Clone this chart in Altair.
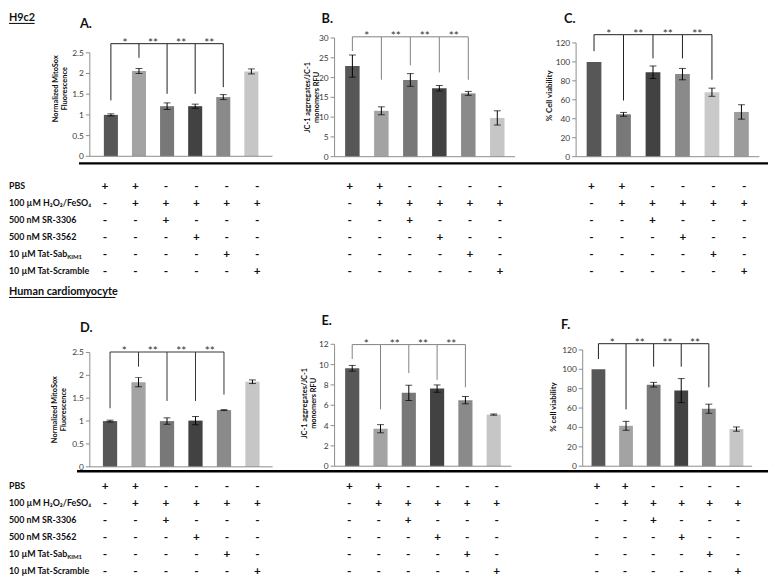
import altair as alt
import pandas as pd

# ---------------- data ----------------
CONDS = ["PBS", "H2O2/FeSO4", "SR-3306", "SR-3562", "Tat-SabKIM1", "Tat-Scramble"]

ROW_LABELS = ["PBS", "100 µM  H₂O₂/FeSO₄", "500 nM  SR-3306", "500 nM  SR-3562",
              "10 µM  Tat-Sab", "10 µM  Tat-Scramble"]
SIGNS = [
    ["+", "+", "-", "-", "-", "-"],
    ["-", "+", "+", "+", "+", "+"],
    ["-", "-", "+", "-", "-", "-"],
    ["-", "-", "-", "+", "-", "-"],
    ["-", "-", "-", "-", "+", "-"],
    ["-", "-", "-", "-", "-", "+"],
]
STARS = ["*", "**", "**", "**"]

# H9c2
A_MEAN = [1.00, 2.06, 1.21, 1.21, 1.43, 2.05]
A_SEM = [0.025, 0.06, 0.08, 0.05, 0.06, 0.06]
A_BR_TOP = 2.72
A_BR_END = [1.35, 2.38, 1.51, 1.51, 1.67]

B_MEAN = [22.9, 11.6, 19.4, 17.3, 16.0, 9.8]
B_SEM = [2.8, 1.0, 1.6, 0.7, 0.5, 1.8]
B_BR_TOP = 30.3
B_BR_END = [26.7, 19.45, 23.1, 21.3, 19.45]

C_MEAN = [100, 44.7, 89.1, 87.1, 68.0, 47.2]
C_SEM = [0, 2.0, 6.6, 6.0, 4.3, 7.6]
C_BR_TOP = 128.7
C_BR_END = [111.3, 59.3, 103.7, 103.7, 81.2]

# Human cardiomyocyte
D_MEAN = [1.00, 1.85, 1.00, 1.01, 1.24, 1.86]
D_SEM = [0.02, 0.10, 0.07, 0.09, 0.01, 0.04]
D_BR_TOP = 2.51
D_BR_END = [1.28, 2.19, 1.44, 1.44, 1.58]

E_MEAN = [9.64, 3.69, 7.22, 7.64, 6.50, 5.08]
E_SEM = [0.28, 0.40, 0.75, 0.36, 0.36, 0.06]
E_BR_TOP = 11.97
E_BR_END = [10.55, 5.6, 9.16, 8.5, 7.77]

F_MEAN = [100, 41.7, 84.1, 78.0, 59.3, 38.3]
F_SEM = [0, 4.6, 2.4, 12.4, 4.7, 2.2]
F_BR_TOP = 126.4
F_BR_END = [110.5, 58.6, 102.7, 102.7, 81.4]

# ---------------- styles / layout ----------------
W, H = 770, 571
FONT = "Lato"
AX_GRAY = "#8c8c8c"
PAL1 = ["#575757", "#a3a3a3", "#787878", "#424242", "#8a8a8a", "#c6c6c6"]
PAL_C = ["#575757", "#787878", "#424242", "#8a8a8a", "#c9c9c9", "#9c9c9c"]

T_MITO = ["Normalized MitoSox", "Fluorescence"]
T_JC1 = ["JC-1 aggregates/JC-1", "monomers RFU"]

GEO = {
    "A": dict(xr=[82, 267.25], po=0.5, yr=[145.3, 40.3], ticks=[0, 0.5, 1, 1.5, 2, 2.5],
              title=T_MITO, tx=48, tdx=16, colors=PAL1, bc="#1e1e1e", step=28.5),
    "B": dict(xr=[330.3, 513.4], po=0.364, yr=[145.7, 25.3], ticks=[0, 5, 10, 15, 20, 25, 30],
              title=T_JC1, tx=303, tdx=0, colors=PAL1, bc="#808080", step=29.4),
    "C": dict(xr=[575.3, 761.2], po=0.358, yr=[145.7, 30.3], ticks=[0, 20, 40, 60, 80, 100, 120],
              title="% Cell viability", tx=548.5, tdx=4, colors=PAL_C, bc="#1e1e1e", step=29.9),
    "D": dict(xr=[82, 267.5], po=0.46, yr=[460.3, 344.3], ticks=[0, 0.5, 1, 1.5, 2, 2.5],
              title=T_MITO, tx=46.5, tdx=0, colors=PAL1, bc="#333333", step=28.9),
    "E": dict(xr=[330.3, 509.6], po=0.373, yr=[459.7, 336.0], ticks=[0, 2, 4, 6, 8, 10, 12],
              title=T_JC1, tx=300, tdx=2, colors=PAL1, bc="#808080", step=28.7),
    "F": dict(xr=[582, 753.9], po=0.32, yr=[459.7, 341.7], ticks=[0, 20, 40, 60, 80, 100, 120],
              title="% cell viability", tx=553, tdx=1, colors=PAL1, bc="#1e1e1e", step=28.0),
}

ROWS_TOP = [175, 262]
ROWS_BOTTOM = [480, 566]


def xscale(g):
    return alt.Scale(domain=CONDS, range=g["xr"], paddingInner=0.5, paddingOuter=g["po"])


def yscale(g):
    return alt.Scale(domain=[0, max(g["ticks"])], range=g["yr"], nice=False, zero=True)


def panel(mean, sem, btop, bends, g):
    df = pd.DataFrame({"cond": CONDS, "mean": mean, "sem": sem})
    ys = yscale(g)
    xn = alt.X("cond:N", scale=xscale(g), axis=None)
    x0, x1 = g["xr"]

    # value axis drawn from the tick list through the y scale
    tdf = pd.DataFrame({"v": g["ticks"]})
    tk = alt.Chart(tdf)
    yline = tk.mark_rule(color=AX_GRAY, strokeWidth=1).encode(
        x=alt.value(x0), y=alt.Y("min(v):Q", scale=ys, axis=None), y2="max(v):Q")
    base = tk.mark_rule(color=AX_GRAY, strokeWidth=1).encode(
        x=alt.value(x0), x2=alt.value(x1), y=alt.Y("min(v):Q", scale=ys, axis=None))
    ticks = tk.mark_rule(color=AX_GRAY, strokeWidth=1).encode(
        x=alt.value(x0 - 4), x2=alt.value(x0), y=alt.Y("v:Q", scale=ys, axis=None))
    tlab = tk.mark_text(font=FONT, fontSize=8.5, color="#3a3a3a", align="right",
                        baseline="middle").encode(
        x=alt.value(x0 - 6), y=alt.Y("v:Q", scale=ys, axis=None),
        text=alt.Text("v:Q", format="~g"))
    tsize = 7.5 if isinstance(g["title"], list) else 8
    title = tk.mark_text(font=FONT, fontSize=tsize, fontWeight="bold", color="#111111", angle=270,
                         align="center", baseline="middle", lineHeight=9, dx=g["tdx"]).encode(
        x=alt.value(g["tx"]), y=alt.Y("mean(v):Q", scale=ys, axis=None),
        text=alt.value(g["title"]))

    bars = alt.Chart(df).mark_bar().encode(
        x=xn,
        y=alt.Y("mean:Q", scale=ys, axis=None),
        color=alt.Color("cond:N", scale=alt.Scale(domain=CONDS, range=g["colors"]), legend=None),
    )
    eb = alt.Chart(df).transform_filter("datum.sem > 0").transform_calculate(
        lo="datum.mean - datum.sem", hi="datum.mean + datum.sem")
    err = eb.mark_rule(color="#000000", strokeWidth=1).encode(
        x=xn, y=alt.Y("lo:Q", scale=ys, axis=None), y2="hi:Q")
    cap_lo = eb.mark_tick(color="#000000", size=7, thickness=1).encode(
        x=xn, y=alt.Y("lo:Q", scale=ys, axis=None))
    cap_hi = eb.mark_tick(color="#000000", size=7, thickness=1).encode(
        x=xn, y=alt.Y("hi:Q", scale=ys, axis=None))

    bdf = pd.DataFrame({"cond": CONDS[:5], "top": [btop] * 5, "end": bends})
    hline = alt.Chart(bdf).mark_line(color=g["bc"], strokeWidth=1).encode(
        x=xn, y=alt.Y("top:Q", scale=ys, axis=None))
    vlines = alt.Chart(bdf).mark_rule(color=g["bc"], strokeWidth=1).encode(
        x=xn, y=alt.Y("top:Q", scale=ys, axis=None), y2="end:Q")
    sdf = pd.DataFrame({"cond": CONDS[1:5], "top": [btop] * 4, "star": STARS})
    stars = alt.Chart(sdf).mark_text(font=FONT, fontSize=12, color="#333333", baseline="alphabetic",
                                     dx=-g["step"] / 2, dy=3).encode(
        x=xn, y=alt.Y("top:Q", scale=ys, axis=None), text="star:N")
    return alt.layer(yline, ticks, tlab, title, bars, base, err, cap_lo, cap_hi, hline, vlines, stars)


def row_scale(yr):
    return alt.Scale(type="point", domain=ROW_LABELS, range=yr, padding=0)


def table(g, yr):
    recs = []
    for r, lab in enumerate(ROW_LABELS):
        for c, cond in enumerate(CONDS):
            recs.append({"row": lab, "cond": cond, "sign": SIGNS[r][c]})
    tdf = pd.DataFrame(recs)
    return alt.Chart(tdf).mark_text(font=FONT, fontSize=12, fontWeight="bold", color="#111111",
                                    baseline="middle").encode(
        x=alt.X("cond:N", scale=xscale(g), axis=None),
        y=alt.Y("row:N", scale=row_scale(yr), axis=None),
        text="sign:N")


def row_labels(yr):
    ldf = pd.DataFrame({"row": ROW_LABELS})
    lab = alt.Chart(ldf).mark_text(font=FONT, fontSize=9, fontWeight="bold", color="#111111",
                                   align="left", baseline="middle").encode(
        x=alt.value(0), y=alt.Y("row:N", scale=row_scale(yr), axis=None), text="row:N")
    sub = alt.Chart(pd.DataFrame({"row": [ROW_LABELS[4]], "sub": ["KIM1"]})).mark_text(
        font=FONT, fontSize=6, fontWeight="bold", color="#111111", align="left",
        baseline="middle", dy=3).encode(
        x=alt.value(59), y=alt.Y("row:N", scale=row_scale(yr), axis=None), text="sub:N")
    return [lab, sub]


ONE = pd.DataFrame({"k": [0]})


def label(text, x, y, size=13, align="left", baseline="middle"):
    return alt.Chart(ONE).mark_text(font=FONT, fontSize=size, fontWeight="bold", color="#111111",
                                    align=align, baseline=baseline).encode(
        x=alt.value(x), y=alt.value(y), text=alt.value(text))


def hrule(x1, x2, y, w=1.0):
    return alt.Chart(ONE).mark_rule(color="#000000", strokeWidth=w).encode(
        x=alt.value(x1), x2=alt.value(x2), y=alt.value(y))


layers = [
    panel(A_MEAN, A_SEM, A_BR_TOP, A_BR_END, GEO["A"]), table(GEO["A"], ROWS_TOP),
    panel(B_MEAN, B_SEM, B_BR_TOP, B_BR_END, GEO["B"]), table(GEO["B"], ROWS_TOP),
    panel(C_MEAN, C_SEM, C_BR_TOP, C_BR_END, GEO["C"]), table(GEO["C"], ROWS_TOP),
    panel(D_MEAN, D_SEM, D_BR_TOP, D_BR_END, GEO["D"]), table(GEO["D"], ROWS_BOTTOM),
    panel(E_MEAN, E_SEM, E_BR_TOP, E_BR_END, GEO["E"]), table(GEO["E"], ROWS_BOTTOM),
    panel(F_MEAN, F_SEM, F_BR_TOP, F_BR_END, GEO["F"]), table(GEO["F"], ROWS_BOTTOM),
]
layers += row_labels(ROWS_TOP) + row_labels(ROWS_BOTTOM)
layers += [
    label("H9c2", 0, 8.5, size=11, baseline="alphabetic"), hrule(0, 26, 10.5),
    label("Human cardiomyocyte", 0, 286, size=11, baseline="alphabetic"), hrule(0, 108, 288.5),
    label("A.", 72, 11), label("B.", 317, 6), label("C.", 563, 6),
    label("D.", 72, 320), label("E.", 317, 312), label("F.", 560, 316),
    hrule(71, 770, 152.5, 2.5), hrule(69, 770, 464.7, 2.5),
]

chart = alt.layer(*layers).resolve_scale(
    x="independent", y="independent", color="independent"
).properties(
    width=W, height=H, padding=0
).configure_view(
    strokeWidth=0
)

chart.save("out.html", embed_options={"renderer": "svg", "actions": False})
